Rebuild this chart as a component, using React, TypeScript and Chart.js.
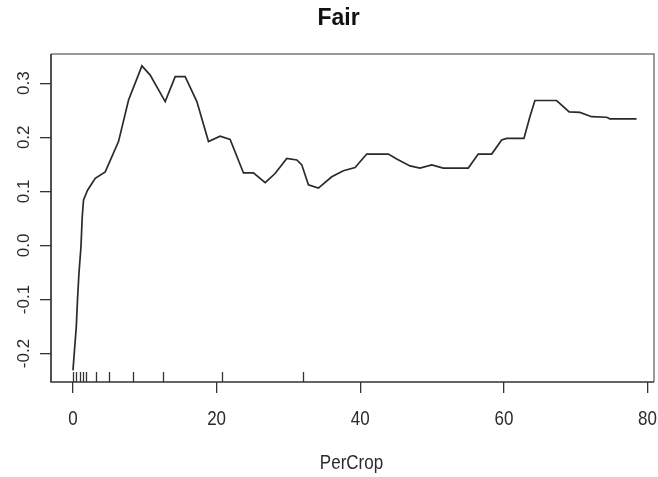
import React, { useEffect, useRef } from "react";
import { Chart, registerables } from "chart.js";

Chart.register(...registerables);

// Partial-dependence curve of "Fair" against PerCrop
const perCrop = [
  0, 0.18, 0.46, 0.64, 0.83, 1.11, 1.29, 1.47, 2.03, 3.1, 4.49, 6.34, 7.74, 9.6,
  10.75, 12.84, 14.23, 15.62, 17.25, 18.87, 20.49, 21.88, 23.74, 25.13, 26.76,
  28.14, 29.77, 31.17, 31.86, 32.78, 34.17, 36.03, 37.65, 39.28, 40.9, 43.91,
  45.08, 46.93, 48.32, 49.95, 51.56, 55.04, 56.43, 58.3, 59.69, 60.38, 62.79,
  63.62, 64.32, 67.34, 69.09, 70.58, 72.21, 74.3, 74.76, 78.47,
];
const fairEffect = [
  -0.231, -0.199, -0.151, -0.098, -0.052, -0.003, 0.053, 0.084, 0.102, 0.124,
  0.136, 0.192, 0.269, 0.332, 0.315, 0.266, 0.312, 0.312, 0.266, 0.192, 0.202,
  0.196, 0.134, 0.134, 0.116, 0.133, 0.161, 0.158, 0.149, 0.112, 0.106, 0.127,
  0.138, 0.144, 0.169, 0.169, 0.16, 0.147, 0.143, 0.149, 0.143, 0.143, 0.169,
  0.169, 0.195, 0.198, 0.198, 0.238, 0.268, 0.268, 0.247, 0.246, 0.238, 0.237,
  0.234, 0.234,
];
// Rug marks: deciles of PerCrop
const rugValues = [0, 0.4, 0.95, 1.35, 1.75, 3.2, 5.05, 8.4, 12.6, 20.8, 32.0];

const xTicks = [0, 20, 40, 60, 80];
const yTicks = [-0.2, -0.1, 0.0, 0.1, 0.2, 0.3];
const yTickLabels = ["-0.2", "-0.1", "0.0", "0.1", "0.2", "0.3"];

const titleText = "Fair";
const xTitle = "PerCrop";

const FONT = '"Liberation Sans", Arial, Helvetica, sans-serif';
const INK = "#2b2b2b";

// draws text whose glyphs are a little taller than wide (R device look)
function tallText(ctx: CanvasRenderingContext2D, text: string, x: number, baseline: number, sy: number) {
  ctx.save();
  ctx.translate(x, baseline);
  ctx.scale(1, sy);
  ctx.fillText(text, 0, 0);
  ctx.restore();
}

const decorPlugin = {
  id: "rDecor",
  afterDraw(chart: any) {
    const { ctx, chartArea, scales } = chart;
    const xs = scales.x;
    const ys = scales.y;
    const { left, right, top, bottom } = chartArea;
    ctx.save();

    // frame
    ctx.lineWidth = 1.5;
    ctx.strokeStyle = "#7a7a7a";
    ctx.beginPath();
    ctx.moveTo(left, top);
    ctx.lineTo(right, top);
    ctx.lineTo(right, bottom);
    ctx.stroke();
    ctx.strokeStyle = "#333";
    ctx.lineWidth = 1.7;
    ctx.beginPath();
    ctx.moveTo(left, top);
    ctx.lineTo(left, bottom);
    ctx.lineTo(right, bottom);
    ctx.stroke();

    // rug
    ctx.lineWidth = 1.3;
    ctx.strokeStyle = "#333";
    rugValues.forEach((v) => {
      const px = Math.round(xs.getPixelForValue(v)) + 0.5;
      ctx.beginPath();
      ctx.moveTo(px, bottom);
      ctx.lineTo(px, bottom - 10);
      ctx.stroke();
    });

    ctx.fillStyle = INK;

    // x tick labels
    ctx.font = `17px ${FONT}`;
    ctx.textAlign = "center";
    ctx.textBaseline = "alphabetic";
    xTicks.forEach((v) => {
      tallText(ctx, String(v), xs.getPixelForValue(v), 425, 1.18);
    });

    // y tick labels, rotated
    yTicks.forEach((v, i) => {
      ctx.save();
      ctx.translate(28.5, ys.getPixelForValue(v));
      ctx.rotate(-Math.PI / 2);
      ctx.textAlign = "center";
      ctx.textBaseline = "alphabetic";
      ctx.fillText(yTickLabels[i], 0, 0);
      ctx.restore();
    });

    // axis title
    tallText(ctx, xTitle, (left + right) / 2 - 1, 469, 1.15);

    // main title
    ctx.font = `bold 23px ${FONT}`;
    ctx.fillStyle = "#111";
    ctx.fillText(titleText, 338.5, 25);

    ctx.restore();
  },
};

export default function App() {
  const canvasRef = useRef<HTMLCanvasElement | null>(null);

  useEffect(() => {
    const canvas = canvasRef.current;
    if (!canvas) return;
    const points = perCrop.map((x, i) => ({ x, y: fairEffect[i] }));

    const chart = new Chart(canvas, {
      type: "line",
      data: {
        datasets: [
          {
            data: points,
            borderColor: "#2a2a2a",
            borderWidth: 1.7,
            pointRadius: 0,
            tension: 0,
            fill: false,
          },
        ],
      },
      options: {
        animation: false,
        responsive: false,
        maintainAspectRatio: false,
        layout: { padding: { top: 54, right: 4, left: 0, bottom: 0 } },
        plugins: {
          legend: { display: false },
          title: { display: false },
          tooltip: { enabled: false },
        },
        scales: {
          x: {
            type: "linear",
            min: -3.06,
            max: 80.9,
            afterBuildTicks: (s: any) => {
              s.ticks = xTicks.map((value) => ({ value }));
            },
            afterFit: (s: any) => {
              s.height = 95;
            },
            ticks: { display: false },
            border: { display: false },
            grid: {
              drawOnChartArea: false,
              drawTicks: true,
              tickLength: 11,
              color: "#333",
              lineWidth: 1.3,
            },
          },
          y: {
            type: "linear",
            min: -0.2526,
            max: 0.354,
            afterBuildTicks: (s: any) => {
              s.ticks = yTicks.map((value) => ({ value }));
            },
            afterFit: (s: any) => {
              s.width = 51;
            },
            ticks: { display: false },
            border: { display: false },
            grid: {
              drawOnChartArea: false,
              drawTicks: true,
              tickLength: 11,
              color: "#333",
              lineWidth: 1.3,
            },
          },
        },
      },
      plugins: [decorPlugin],
    });

    return () => chart.destroy();
  }, []);

  return (
    <div
      style={{
        position: "absolute",
        left: 0,
        top: 0,
        width: 658,
        height: 477,
        background: "#fff",
      }}
    >
      <canvas ref={canvasRef} width={658} height={477} />
    </div>
  );
}
